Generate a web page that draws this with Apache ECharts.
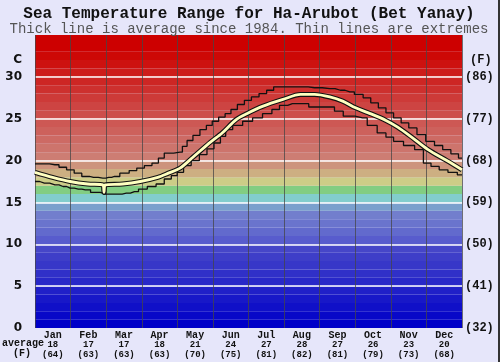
<!DOCTYPE html>
<html>
<head>
<meta charset="utf-8">
<script src="https://cdn.jsdelivr.net/npm/echarts@6/dist/echarts.min.js"></script>
<style>
html,body{margin:0;padding:0;background:#e6e6fa;}
#c{width:498px;height:362px;border-right:2px solid #333;}
</style>
</head>
<body>
<div id="c"></div>
<script>
// ---- data ----
const months = ['Jan','Feb','Mar','Apr','May','Jun','Jul','Aug','Sep','Oct','Nov','Dec'];
const avgC = [18,17,17,18,21,24,27,28,27,26,23,20];
const avgF = [64,63,63,63,70,75,81,82,81,79,73,68];

const avgDays = [0,15,30,45,58,59,60,75,90,105,114,124,135,150,160,172,181,195,212,227,239,252,263,274,285,300,310,321,336,352,365];
const avgVals = [18.6,18.0,17.5,17.2,17.1,16.2,17.1,17.2,17.5,18.0,18.5,19.1,20.4,22.2,23.3,24.9,25.6,26.5,27.3,27.9,27.9,27.6,27.1,26.3,25.7,24.8,24.0,22.9,21.3,20.0,18.9];

const maxDays = [0,8,17,24,30,37,43,50,58,63,68,77,84,90,97,103,108,113,124,128,132,138,144,149,154,160,165,170,176,182,188,195,201,207,218,228,239,252,261,269,277,284,290,297,303,310,316,323,330,338,345,352,359,365];
const maxVals = [19.6,19.6,19.5,19.2,18.9,18.5,18.1,18.0,17.9,18.0,18.1,18.5,18.8,19.1,19.4,19.7,20.3,20.9,21.0,21.7,22.4,23.0,23.7,24.2,24.7,25.2,25.6,26.1,26.7,27.2,27.6,28.0,28.4,28.8,28.8,28.8,28.7,28.6,28.4,28.2,27.9,27.5,26.9,26.3,25.7,25.1,24.5,23.9,23.1,22.3,21.8,21.3,20.8,20.3];

const minDays = [0,8,17,24,30,37,43,52,60,71,78,85,92,100,107,114,119,124,130,137,144,150,156,161,165,173,182,190,199,206,212,220,229,239,252,260,267,280,288,297,303,310,320,329,335,342,349,357,365];
const minVals = [17.5,17.3,17.1,16.9,16.7,16.6,16.5,16.2,16.0,16.0,16.1,16.3,16.6,16.9,17.2,17.8,18.2,18.6,19.4,20.0,20.7,21.4,22.1,22.9,23.7,24.2,24.7,25.1,25.6,26.1,26.6,26.8,26.8,26.4,26.4,25.9,25.3,25.1,24.2,23.3,22.8,22.3,21.8,21.3,19.7,19.3,18.9,18.6,18.3];

// background colour bands, one per degree C from 0 upward (styling)
const bandColors = [
 'rgb(0,0,200)','rgb(8,8,200)','rgb(16,16,200)','rgb(24,24,200)','rgb(32,32,200)',
 'rgb(40,40,200)','rgb(48,48,200)','rgb(55,55,200)','rgb(62,62,200)','rgb(70,70,200)',
 'rgb(88,92,205)','rgb(98,106,205)','rgb(106,116,205)','rgb(114,126,205)','rgb(122,160,205)',
 'rgb(130,205,205)','rgb(130,205,130)','rgb(205,205,135)','rgb(205,175,130)','rgb(205,148,125)',
 'rgb(205,125,115)','rgb(205,116,108)','rgb(205,106,100)','rgb(205,97,92)','rgb(205,88,84)',
 'rgb(205,78,75)','rgb(205,68,66)','rgb(205,58,56)','rgb(205,48,46)','rgb(205,38,36)',
 'rgb(205,28,26)','rgb(205,18,16)','rgb(205,8,6)','rgb(205,0,0)','rgb(205,0,0)'
];

const pairs = (d, v) => d.map((x, i) => [x, v[i]]);
const mono = '"Liberation Mono","DejaVu Sans Mono",monospace';

const chart = echarts.init(document.getElementById('c'));
chart.setOption({
  backgroundColor: '#e6e6fa',
  animation: false,
  title: {
    text: 'Sea Temperature Range for Ha-Arubot (Bet Yanay)',
    subtext: 'Thick line is average since 1984. Thin lines are extremes',
    left: 'center', top: 5, itemGap: 0, padding: 0,
    textStyle: {fontFamily: mono, fontSize: 16, fontWeight: 'bold', color: '#111', lineHeight: 17},
    subtextStyle: {fontFamily: mono, fontSize: 14, color: '#555', lineHeight: 14}
  },
  grid: {left: 35, right: 36, top: 35, bottom: 34},
  xAxis: [
    {
      type: 'category', data: months, position: 'bottom',
      axisLine: {show: false}, axisTick: {show: false},
      splitLine: {show: true, interval: 0, lineStyle: {color: 'rgba(70,70,70,0.75)', width: 1}},
      axisLabel: {
        interval: 0, margin: 2,
        formatter: (v, i) => '{m|' + v + '}\n{n|' + avgC[i] + '}\n{n|(' + avgF[i] + ')}',
        rich: {
          m: {fontFamily: mono, fontSize: 10, fontWeight: 'bold', color: '#111', lineHeight: 10},
          n: {fontFamily: mono, fontSize: 9, fontWeight: 'bold', color: '#111', lineHeight: 9.5}
        }
      },
      z: 1
    },
    {type: 'value', min: 0, max: 365, show: false}
  ],
  yAxis: [
    {
      type: 'value', position: 'left', min: 0, max: 35, interval: 5,
      name: 'C', nameLocation: 'end', nameGap: -25,
      nameTextStyle: {fontFamily: 'DejaVu Sans', fontSize: 12, fontWeight: 'bold', color: '#111', align: 'right', verticalAlign: 'middle', padding: [0, 13, 0, 0]},
      axisLine: {show: false}, axisTick: {show: false},
      axisLabel: {margin: 13, fontFamily: 'DejaVu Sans', fontSize: 12, fontWeight: 'bold', color: '#111',
        formatter: v => v === 35 ? '' : String(v)},
      splitLine: {show: true, lineStyle: {width: 1.5,
        color: ['rgba(0,0,0,0)','#ffffff','#ffffff','#ffffff','#ffffff','#ffffff','#ffffff','rgba(0,0,0,0)']}},
      z: 1
    },
    {
      type: 'value', position: 'right', min: 0, max: 35, interval: 5,
      name: '(F)', nameLocation: 'end', nameGap: -25,
      nameTextStyle: {fontFamily: mono, fontSize: 12, fontWeight: 'bold', color: '#111', align: 'left', verticalAlign: 'middle', padding: [0, 0, 0, 8]},
      axisLine: {show: false}, axisTick: {show: false}, splitLine: {show: false},
      axisLabel: {margin: 3, fontFamily: mono, fontSize: 12, fontWeight: 'bold', color: '#111',
        formatter: v => v === 35 ? '' : '(' + Math.round(v * 9 / 5 + 32) + ')'},
      z: 1
    },
    {
      type: 'value', position: 'left', min: 0, max: 35, interval: 1,
      axisLine: {show: false}, axisTick: {show: false}, axisLabel: {show: false},
      splitLine: {show: false},
      splitArea: {show: true, areaStyle: {color: bandColors, opacity: 1}},
      z: 0
    }
  ],
  graphic: [
    {type: 'text', left: 2, top: 338, style: {text: 'average', font: 'bold 10px ' + mono, fill: '#111'}},
    {type: 'text', left: 13, top: 348, style: {text: '(F)', font: 'bold 10px ' + mono, fill: '#111'}}
  ],
  series: [
    {type: 'line', name: 'max', xAxisIndex: 1, yAxisIndex: 0, data: pairs(maxDays, maxVals),
      step: 'middle', symbol: 'none', lineStyle: {color: '#111', width: 1.3}, z: 3},
    {type: 'line', name: 'min', xAxisIndex: 1, yAxisIndex: 0, data: pairs(minDays, minVals),
      step: 'middle', symbol: 'none', lineStyle: {color: '#111', width: 1.3}, z: 3},
    {type: 'line', name: 'avgOutline', xAxisIndex: 1, yAxisIndex: 0, data: pairs(avgDays, avgVals),
      smooth: 0.3, symbol: 'none', lineStyle: {color: '#111', width: 5}, z: 4},
    {type: 'line', name: 'avg', xAxisIndex: 1, yAxisIndex: 0, data: pairs(avgDays, avgVals),
      smooth: 0.3, symbol: 'none', lineStyle: {color: '#ffffc0', width: 2.8}, z: 5}
  ]
});
</script>
</body>
</html>
